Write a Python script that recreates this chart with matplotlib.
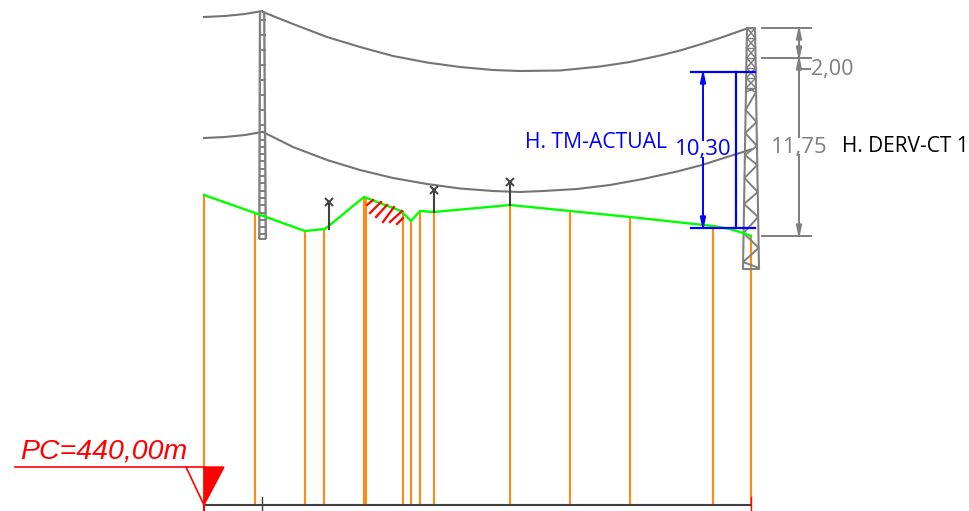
import matplotlib
matplotlib.use('Agg')
import matplotlib.pyplot as plt
from matplotlib.patches import Polygon

# everything in pixels (x right, y down)
GROUND_X = [204, 255, 305, 325, 364, 401, 411, 420, 434, 510, 570, 630, 713, 730, 743, 751]
GROUND_Y = [195, 213, 231, 229, 197, 211, 221, 211, 212, 205, 211, 217, 226, 229, 233, 236]

ORANGE_X = [204.5, 255, 305, 324.5, 364, 366.5, 403, 411, 420, 434, 510, 570, 630, 713, 751]
ORANGE_TOP = [195, 213, 231, 229, 197, 198, 211, 221, 211, 212, 205, 211, 217, 226, 236]
ORANGE_BOTTOM = 505

UPPER_LEFT_X = [204, 225, 245, 262]
UPPER_LEFT_Y = [17, 16, 14, 11]
UPPER_X = [263, 293, 327, 360, 393, 427, 460, 493, 520, 560, 600, 630, 660, 680, 700, 720, 747]
UPPER_Y = [12, 24, 37, 47, 56, 62.5, 67, 70, 71, 70.5, 66.5, 62, 55.5, 50.5, 44.5, 38, 28.5]

LOWER_LEFT_X = [204, 225, 245, 262]
LOWER_LEFT_Y = [138, 137, 135, 132]
LOWER_X = [263, 293, 327, 360, 393, 427, 460, 493, 520, 543, 577, 610, 643, 677, 702, 727, 751]
LOWER_Y = [132, 147, 160, 170, 178, 184, 188.5, 191, 192, 191, 189, 185, 179, 171.5, 165, 157, 149.5]

MARKER_X = [329, 434, 510]
MARKER_TOP = [202, 190, 182]
MARKER_BOTTOM = [229, 212, 205]

HATCH_X0 = [367, 370, 376, 383, 390, 397]
HATCH_Y0 = [205, 213, 217, 222, 222, 224]
HATCH_X1 = [373, 381, 387, 394, 402, 403]
HATCH_Y1 = [200, 202, 205, 207, 211, 218]

# left tower: rails and rungs
LEFT_RAIL_X0 = [260, 264.2]
LEFT_RAIL_X1 = [259.3, 265.8]
LEFT_RUNGS_Y = [20, 35, 50, 65, 80, 95, 110, 125, 140, 147, 154, 161, 169, 176, 183, 191, 198, 205, 213, 220, 227, 234, 239]

# right tower: small x panels at the top, zigzag below it
RT_PANEL_Y = [28, 38, 48, 58, 68, 78, 88, 92]
RT_ZIG_Y = [92, 110, 122, 133, 146, 155, 165, 178, 192, 204, 217, 233, 248, 262, 268]
RT_ZIG_SIDE = [1, 0, 1, 0, 1, 0, 1, 0, 1, 0, 1, 0, 1, 0, 1]

GREY = '#7f7f7f'
TOWER = '#808080'
BLUE = '#0000ff'
ORANGE = '#ff8a14'
GREEN = '#00ff00'
RED = '#ff0000'
DARK = '#404040'


def rail_x(y, side):
    # tapered right tower, side 0 is the left leg
    if side == 0:
        return 747 - 4 * (y - 28) / 241
    return 755 + 4 * (y - 28) / 241


fig = plt.figure(figsize=(9.7, 5.11), dpi=100)
ax = fig.add_axes([0, 0, 1, 1])
ax.set_xlim(0, 970)
ax.set_ylim(511, 0)
ax.axis('off')

# orange verticals
for x, top in zip(ORANGE_X, ORANGE_TOP):
    ax.plot([x, x], [top, ORANGE_BOTTOM], color=ORANGE, lw=1.5, solid_capstyle='butt', zorder=2)

# cables
for xs, ys in [(UPPER_LEFT_X, UPPER_LEFT_Y), (UPPER_X, UPPER_Y), (LOWER_LEFT_X, LOWER_LEFT_Y), (LOWER_X, LOWER_Y)]:
    ax.plot(xs, ys, color='#747474', lw=1.5, zorder=3)

# left tower
for x0, x1 in zip(LEFT_RAIL_X0, LEFT_RAIL_X1):
    ax.plot([x0, x1], [11, 239], color=TOWER, lw=1.7, solid_capstyle='butt', zorder=3)
for y in LEFT_RUNGS_Y:
    ax.plot([259, 266], [y, y], color=TOWER, lw=1.4, solid_capstyle='butt', zorder=3)

# right tower
ax.plot([747, 743, 759, 755, 747], [28, 269, 269, 28, 28], color=TOWER, lw=1.5, zorder=3)
for i in range(len(RT_PANEL_Y) - 1):
    y0, y1 = RT_PANEL_Y[i], RT_PANEL_Y[i + 1]
    ax.plot([rail_x(y0, 0), rail_x(y1, 1)], [y0, y1], color=TOWER, lw=1.1, zorder=3)
    ax.plot([rail_x(y0, 1), rail_x(y1, 0)], [y0, y1], color=TOWER, lw=1.1, zorder=3)
    ax.plot([rail_x(y0, 0), rail_x(y0, 1)], [y0, y0], color=TOWER, lw=1.0, zorder=3)
ax.plot([rail_x(y, s) for y, s in zip(RT_ZIG_Y, RT_ZIG_SIDE)], RT_ZIG_Y, color=TOWER, lw=1.4, zorder=3)

# ground
ax.plot(GROUND_X, GROUND_Y, color=GREEN, lw=1.7, zorder=4)

# red hatching
for x0, y0, x1, y1 in zip(HATCH_X0, HATCH_Y0, HATCH_X1, HATCH_Y1):
    ax.plot([x0, x1], [y0, y1], color=RED, lw=1.6, zorder=4)

# x markers on stems
for x, top, bottom in zip(MARKER_X, MARKER_TOP, MARKER_BOTTOM):
    ax.plot([x, x], [top, bottom], color=DARK, lw=1.5, zorder=5)
    ax.plot([x], [top], marker='x', ms=6, mew=1.4, color=DARK, zorder=5)

# grey dimensions
for y in [28, 58, 236]:
    ax.plot([762, 811], [y, y], color=GREY, lw=1.4, zorder=3)
ax.plot([799, 799], [28, 137], color=GREY, lw=1.4, zorder=3)
ax.plot([799, 799], [155, 236], color=GREY, lw=1.4, zorder=3)
ax.plot([803, 810], [69, 69], color=GREY, lw=1.4, zorder=3)
for tip, tail in [(28, 40), (58, 46), (58, 70), (236, 224)]:
    ax.add_patch(Polygon([(799, tip), (796.5, tail), (801.5, tail)], color=GREY, zorder=3))

# blue dimensions
for y in [72, 228]:
    ax.plot([691, 755], [y, y], color=BLUE, lw=1.6, zorder=6)
ax.plot([736, 736], [72, 228], color=BLUE, lw=1.6, zorder=6)
ax.plot([703, 703], [72, 140], color=BLUE, lw=1.4, zorder=6)
ax.plot([703, 703], [158, 228], color=BLUE, lw=1.4, zorder=6)
for tip, tail in [(72, 84), (228, 216)]:
    ax.add_patch(Polygon([(703, tip), (700.5, tail), (705.5, tail)], color=BLUE, zorder=6))

# base line and PC mark
ax.plot([204, 751], [505, 505], color=DARK, lw=1.5, zorder=5)
ax.plot([262, 262], [497, 511], color=DARK, lw=1.0, zorder=5)
ax.plot([204, 204], [505, 511], color=RED, lw=1.5, zorder=5)
ax.plot([751, 751], [497, 511], color=RED, lw=1.0, zorder=5)
ax.plot([15, 204], [467, 467], color=RED, lw=1.2, zorder=5)
ax.plot([186, 204], [467, 505], color=RED, lw=1.2, zorder=5)
ax.add_patch(Polygon([(204, 467), (224, 467), (204, 505)], color=RED, zorder=5))

ax.text(20, 451, 'PC=440,00m', color=RED, fontsize=20.5, style='italic', family='Liberation Sans',
        va='center', ha='left', zorder=7)
ax.text(596, 142, 'H. TM-ACTUAL', color=BLUE, fontsize=15.2, family='Open Sans', va='center', ha='center', zorder=7)
ax.text(703, 149.5, '10,30', color=BLUE, fontsize=16, family='Open Sans', va='center', ha='center', zorder=7)
ax.text(799, 147, '11,75', color=GREY, fontsize=16, family='Open Sans', va='center', ha='center', zorder=7)
ax.text(832, 69.5, '2,00', color=GREY, fontsize=15.5, family='Open Sans', va='center', ha='center', zorder=7)
ax.text(905.5, 147, 'H. DERV-CT 1', color='black', fontsize=15, family='Open Sans', va='center', ha='center', zorder=7)

fig.savefig('out.png', dpi=100, facecolor='white')
